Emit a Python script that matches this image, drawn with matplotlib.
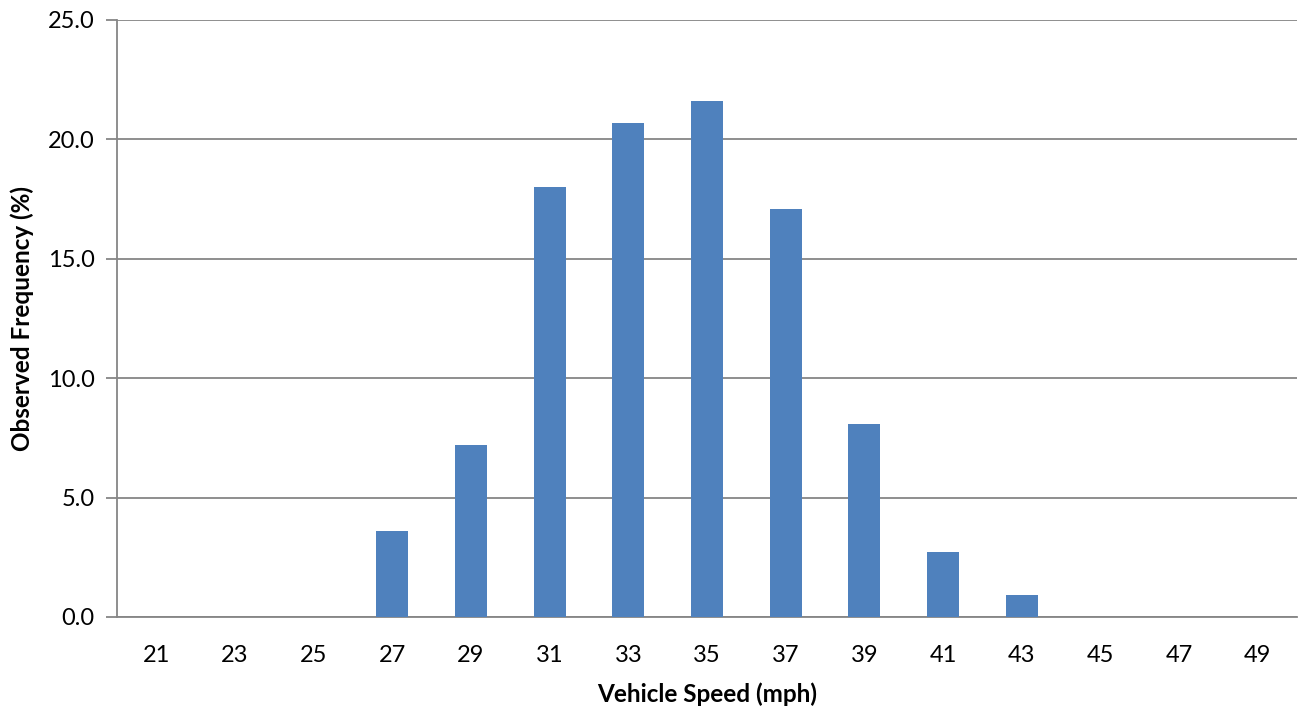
import numpy as np
import matplotlib
matplotlib.use("Agg")
import matplotlib.pyplot as plt

# speed bins and observed frequency
speeds = ["21", "23", "25", "27", "29", "31", "33", "35", "37", "39", "41", "43", "45", "47", "49"]
freq = [0, 0, 0, 3.6, 7.2, 18.0, 20.7, 21.6, 17.1, 8.1, 2.7, 0.9, 0, 0, 0]
yticks = [0, 5, 10, 15, 20, 25]

plt.rcParams["font.family"] = ["Lato", "DejaVu Sans"]

fig = plt.figure(figsize=(13.04, 7.09), dpi=100)
ax = fig.add_axes([0.0897, 0.1298, 0.9049, 0.842])

x = np.arange(len(speeds))
ax.bar(x, freq, width=0.41, color="#4f81bd", zorder=3)

ax.set_xlim(-0.5, len(speeds) - 0.5)
ax.set_ylim(0, 25)
ax.set_yticks(yticks)
ax.set_yticklabels(["%.1f" % v for v in yticks], fontsize=17)
ax.set_xticks(x)
ax.set_xticklabels(speeds, fontsize=17)
ax.yaxis.grid(True, color="#868686", linewidth=1.3, zorder=0)

for s in ["top", "right"]:
    ax.spines[s].set_visible(False)
for s in ["left", "bottom"]:
    ax.spines[s].set_color("#868686")
    ax.spines[s].set_linewidth(1.3)
ax.tick_params(axis="y", length=8, width=1.3, color="#868686", pad=8)
ax.tick_params(axis="x", length=0, pad=20)

ax.set_xlabel("Vehicle Speed (mph)", fontsize=17.5, fontweight="bold", labelpad=12)
ax.set_ylabel("Observed Frequency (%)", fontsize=17.5, fontweight="bold", labelpad=10)

fig.savefig("out.png", dpi=100)
